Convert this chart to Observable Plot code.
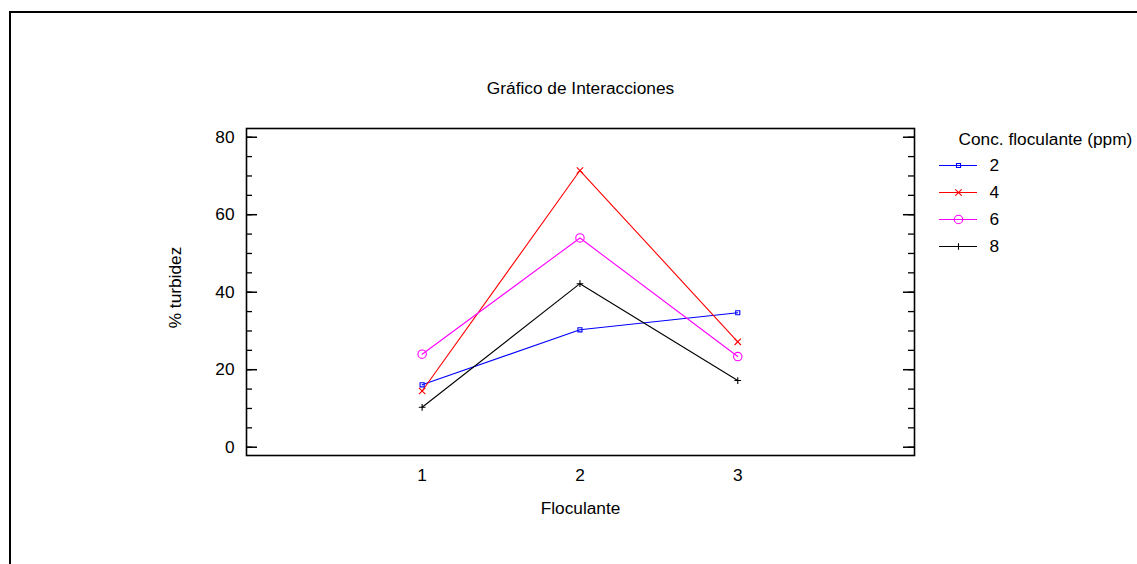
<!DOCTYPE html>
<html>
<head>
<meta charset="utf-8">
<script src="https://cdn.jsdelivr.net/npm/d3@7"></script>
<script src="https://cdn.jsdelivr.net/npm/@observablehq/plot@0.6"></script>
<style>
  html, body { margin: 0; padding: 0; background: #fff; color: #000; }
  #wrap { position: relative; width: 1137px; height: 564px; overflow: hidden; background: #fff; }
  #border { position: absolute; left: 9px; top: 11px; width: 1200px; height: 600px;
            border-top: 2px solid #000; border-left: 2px solid #000; box-sizing: border-box; }
  #main { position: absolute; left: 0; top: 0; }
  #legend { position: absolute; left: 930px; top: 120px; }
</style>
</head>
<body>
<div id="wrap">
  <div id="border"></div>
  <div id="main"></div>
  <div id="legend"></div>
</div>
<script>
// ---- data ----
const floculante = [1, 2, 3];
const concLevels = ["2", "4", "6", "8"];
const turbConc2 = [16.1, 30.3, 34.7];
const turbConc4 = [14.5, 71.4, 27.2];
const turbConc6 = [24.0, 54.0, 23.4];
const turbConc8 = [10.3, 42.2, 17.2];
const yTickLabels = [0, 20, 40, 60, 80];
const yMinorTicks = [0, 5, 10, 15, 20, 25, 30, 35, 40, 45, 50, 55, 60, 65, 70, 75, 80];
const xTickLabels = [1, 2, 3];
const chartTitle = "Gráfico de Interacciones";
const xTitle = "Floculante";
const yTitle = "% turbidez";
const legendTitle = "Conc. floculante (ppm)";

// ---- styles ----
const seriesColors = ["#0000ff", "#ff0000", "#ff00ff", "#000000"];
const seriesSymbols = ["square", "times", "circle", "plus"];
const seriesR = [2.3, 3, 4.2, 2.3];
const font = "'Liberation Sans', Arial, sans-serif";
const fs = 17.3;

const seriesValues = [turbConc2, turbConc4, turbConc6, turbConc8];
const rows = [];
concLevels.forEach((c, i) => floculante.forEach((f, j) => rows.push({conc: c, floculante: f, turb: seriesValues[i][j]})));

const W = 1137, H = 564;
const mL = 246, mR = 223, mT = 128, mB = 109;
const frameW = W - mL - mR;

const colorScale = {domain: concLevels, range: seriesColors};

const dotMarks = concLevels.map((c, i) =>
  Plot.dot(rows.filter(d => d.conc === c), {
    x: "floculante", y: "turb", stroke: "conc", fill: "none",
    symbol: seriesSymbols[i], r: seriesR[i], strokeWidth: 1.1
  })
);

const chart = Plot.plot({
  width: W, height: H,
  marginLeft: mL, marginRight: mR, marginTop: mT, marginBottom: mB,
  style: {fontFamily: font, fontSize: fs + "px", background: "transparent", color: "#000"},
  x: {domain: [-0.113, 4.12]},
  y: {domain: [-2.14, 82.25]},
  color: colorScale,
  marks: [
    Plot.tickY(yMinorTicks, {y: d => d, insetRight: frameW - 6, stroke: "#000", strokeWidth: 1.3}),
    Plot.tickY(yMinorTicks, {y: d => d, insetLeft: frameW - 6, stroke: "#000", strokeWidth: 1.3}),
    Plot.tickY(yTickLabels, {y: d => d, insetRight: frameW - 11, stroke: "#000", strokeWidth: 1.5}),
    Plot.tickY(yTickLabels, {y: d => d, insetLeft: frameW - 11, stroke: "#000", strokeWidth: 1.5}),
    Plot.axisY({ticks: yTickLabels, tickSize: 0, tickPadding: 12, label: null, fontSize: fs}),
    Plot.axisX({ticks: xTickLabels, tickSize: 0, tickPadding: 13, label: null, fontSize: fs, tickFormat: d => String(d)}),
    Plot.line(rows, {x: "floculante", y: "turb", stroke: "conc", z: "conc", strokeWidth: 1.1}),
    ...dotMarks,
    Plot.text([chartTitle], {frameAnchor: "top", dy: -40, lineAnchor: "middle", fontSize: fs, fill: "#000"}),
    Plot.text([xTitle], {frameAnchor: "bottom", dy: 52.6, lineAnchor: "middle", fontSize: fs, fill: "#000"}),
    Plot.text([yTitle], {frameAnchor: "left", dx: -71, dy: -4.5, rotate: -90, lineAnchor: "middle", textAnchor: "middle", fontSize: fs, fill: "#000"}),
    Plot.frame({stroke: "#000", strokeWidth: 1.6})
  ]
});
document.getElementById("main").appendChild(chart);

// ---- legend ----
const legendRows = concLevels.map((c, i) => ({conc: c, symbol: seriesSymbols[i], r: seriesR[i]}));
const legendDots = legendRows.map(d =>
  Plot.dot([d], {x: 0.5, y: "conc", stroke: "conc", fill: "none", symbol: d.symbol, r: d.r, strokeWidth: 1.1})
);
const legend = Plot.plot({
  width: 207, height: 140,
  marginLeft: 0, marginRight: 0, marginTop: 0, marginBottom: 0,
  style: {fontFamily: font, fontSize: fs + "px", background: "transparent", color: "#000"},
  x: {domain: [0, 1], range: [9, 47], axis: null},
  y: {type: "point", domain: concLevels, range: [44.5, 126.5], padding: 0, axis: null},
  color: colorScale,
  marks: [
    Plot.ruleY(legendRows, {y: "conc", x1: 0, x2: 1, stroke: "conc", strokeWidth: 1.1}),
    ...legendDots,
    Plot.text(legendRows, {x: 1, y: "conc", text: "conc", dx: 12, textAnchor: "start", lineAnchor: "middle", fontSize: fs, fill: "#000"}),
    Plot.text([legendTitle], {frameAnchor: "top-left", dx: 28, dy: 18.6, textAnchor: "start", lineAnchor: "middle", fontSize: fs, fill: "#000"})
  ]
});
document.getElementById("legend").appendChild(legend);
</script>
</body>
</html>
